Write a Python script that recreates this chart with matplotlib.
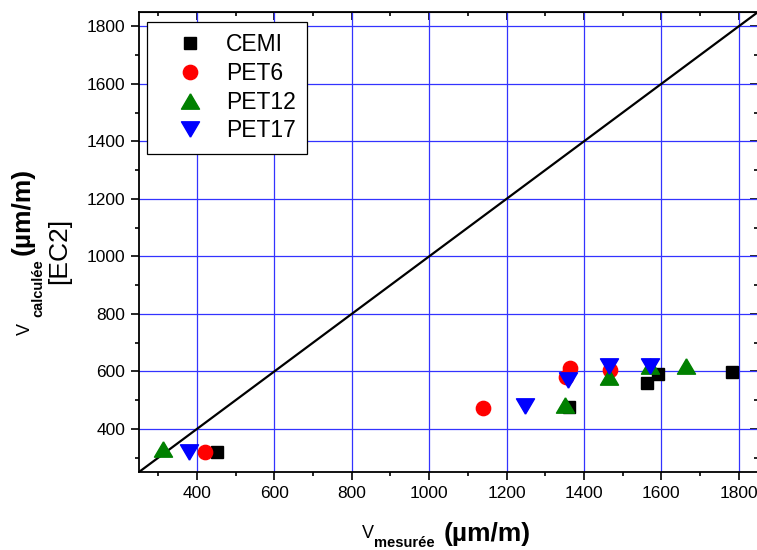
import matplotlib
matplotlib.use("Agg")
import matplotlib.pyplot as plt
from matplotlib.ticker import MultipleLocator

plt.rcParams['font.family'] = ['Liberation Sans', 'DejaVu Sans']

# ---- data ----
series_names = ["CEMI", "PET6", "PET12", "PET17"]
cemi_x = [451, 1362, 1562, 1592, 1783]
cemi_y = [320, 477, 558, 591, 598]
pet6_x = [421, 1139, 1354, 1364, 1468]
pet6_y = [321, 474, 582, 612, 605]
pet12_x = [311, 1351, 1464, 1572, 1663]
pet12_y = [329, 484, 579, 620, 620]
pet17_x = [380, 1249, 1360, 1466, 1570]
pet17_y = [321, 480, 570, 620, 620]
axis_min, axis_max = 250, 1850
major_ticks = [400, 600, 800, 1000, 1200, 1400, 1600, 1800]

W, H = 757, 550
fig = plt.figure(figsize=(W / 100, H / 100), dpi=100)
ax = fig.add_axes([139 / W, 1 - 472 / H, (758 - 139) / W, (472 - 12) / H])

up_tri = [(0, 0.85), (-1, -0.85), (1, -0.85), (0, 0.85)]
down_tri = [(0, -0.85), (-1, 0.85), (1, 0.85), (0, -0.85)]

ax.axline((0, 0), slope=1, color='black', lw=1.6, zorder=2)
ax.plot(cemi_x, cemi_y, ls='none', marker='s', ms=9.2, color='black', label=series_names[0], zorder=3)
ax.plot(pet6_x, pet6_y, ls='none', marker='o', ms=10.3, color='red', label=series_names[1], zorder=3)
ax.plot(pet12_x, pet12_y, ls='none', marker=up_tri, ms=13, color='green', label=series_names[2], zorder=3)
ax.plot(pet17_x, pet17_y, ls='none', marker=down_tri, ms=13, color='blue', label=series_names[3], zorder=3)

ax.set_xlim(axis_min, axis_max)
ax.set_ylim(axis_min, axis_max)
ax.set_xticks(major_ticks)
ax.set_yticks(major_ticks)
ax.xaxis.set_minor_locator(MultipleLocator(100))
ax.yaxis.set_minor_locator(MultipleLocator(100))
ax.grid(True, which='major', color=(0.2, 0.2, 1.0), lw=0.9)
ax.set_axisbelow(True)
for s in ax.spines.values():
    s.set_linewidth(1.3)
ax.tick_params(which='major', direction='out', length=6, width=1.2, labelsize=12.5, pad=4)
ax.tick_params(which='minor', direction='out', length=3.2, width=1.2)

secx = ax.secondary_xaxis('top')
secx.set_xticks(major_ticks)
secx.xaxis.set_minor_locator(MultipleLocator(100))
secx.tick_params(which='major', direction='in', length=6, width=1.2, labeltop=False)
secx.tick_params(which='minor', direction='in', length=3.2, width=1.2)
secy = ax.secondary_yaxis('right')
secy.set_yticks(major_ticks)
secy.yaxis.set_minor_locator(MultipleLocator(100))
secy.tick_params(which='major', direction='in', length=6, width=1.2, labelright=False)
secy.tick_params(which='minor', direction='in', length=3.2, width=1.2)

leg = ax.legend(loc='upper left', bbox_to_anchor=(0.0134, 0.979), borderaxespad=0,
                fontsize=16.5, frameon=True, fancybox=False, framealpha=1,
                edgecolor='black', borderpad=0.5, labelspacing=0.25,
                handlelength=2.73, handletextpad=0.21, numpoints=1)
leg.get_frame().set_linewidth(0.9)


def px(x, y):
    return x / W, 1 - y / H


# x label pieces
fig.text(*px(361.7, 537.7), "V", fontsize=13, ha='left', va='baseline')
fig.text(*px(374, 547), "mesurée", fontsize=10.5, fontweight='bold', ha='left', va='baseline')
fig.text(*px(443.5, 541), "(µm/m)", fontsize=19, fontweight='bold', ha='left', va='baseline')

# y label pieces
kw = dict(rotation=90, rotation_mode='anchor', ha='left', va='baseline')
fig.text(*px(30, 335), "V", fontsize=13, **kw)
fig.text(*px(42, 317), "calculée", fontsize=10.5, fontweight='bold', **kw)
fig.text(*px(29.5, 255), "(µm/m)", fontsize=19, fontweight='bold', **kw)
fig.text(*px(66.5, 284.5), "[EC2]", fontsize=19, **kw)

fig.savefig("out.png", dpi=100)
